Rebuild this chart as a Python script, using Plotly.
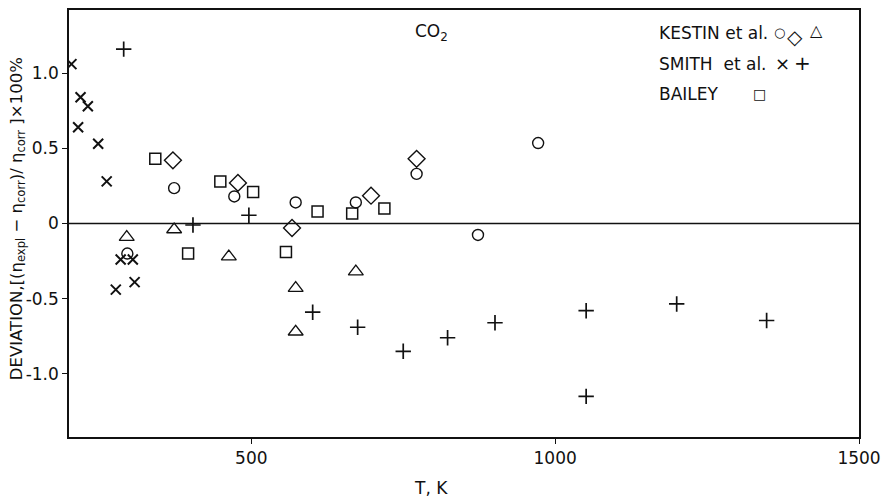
import plotly.graph_objects as go

# ---------------- data ----------------
smith_x_T = [204, 219, 231, 215, 248, 262, 285, 305, 277, 308]
smith_x_dev = [1.06, 0.84, 0.78, 0.64, 0.53, 0.28, -0.24, -0.24, -0.44, -0.39]

smith_p_T = [290, 404, 496, 601, 675, 750, 823, 901, 1051, 1051, 1200, 1348]
smith_p_dev = [1.16, -0.01, 0.055, -0.59, -0.69, -0.85, -0.76, -0.66, -0.58, -1.15, -0.535, -0.645]

kestin_circle_T = [296, 373, 472, 573, 672, 772, 873, 972]
kestin_circle_dev = [-0.20, 0.235, 0.18, 0.14, 0.14, 0.33, -0.076, 0.535]

kestin_diamond_T = [371, 478, 567, 697, 772]
kestin_diamond_dev = [0.42, 0.27, -0.03, 0.185, 0.43]

kestin_tri_T = [295, 373, 463, 573, 573, 672]
kestin_tri_dev = [-0.09, -0.04, -0.22, -0.43, -0.72, -0.32]

bailey_T = [342, 396, 449, 503, 557, 609, 666, 719]
bailey_dev = [0.43, -0.20, 0.28, 0.21, -0.19, 0.08, 0.066, 0.10]

x_tickvals = [500, 1000, 1500]
x_ticktext = ["500", "1000", "1500"]
y_tickvals = [1.0, 0.5, 0, -0.5, -1.0]
y_ticktext = ["1.0", "0.5", "0", "-0.5", "-1.0"]

FONT = "DejaVu Sans"
BLACK = "#111111"

# page offset (body margin of the html page is 8 px)
OFF = 8
PL, PT, PW, PH = 69, 8, 790, 429   # plot area in page pixels

fig = go.Figure()

def add(xs, ys, symbol, size, width):
    fig.add_trace(go.Scatter(
        x=xs, y=ys, mode="markers", showlegend=False, hoverinfo="skip",
        marker=dict(symbol=symbol, size=size, color=BLACK,
                    line=dict(color=BLACK, width=width))))

add(kestin_circle_T, kestin_circle_dev, "circle-open", 11, 1.4)
add(kestin_diamond_T, kestin_diamond_dev, "diamond-open", 13, 1.4)
add(kestin_tri_T, kestin_tri_dev, "triangle-up-open", 13, 1.3)
add(bailey_T, bailey_dev, "square-open", 11, 1.5)
add(smith_x_T, smith_x_dev, "x-thin-open", 10, 2.0)
add(smith_p_T, smith_p_dev, "cross-thin-open", 11, 1.7)

axis_common = dict(
    showline=True, linecolor=BLACK, linewidth=1.6, mirror=True,
    showgrid=False, zeroline=False,
    ticks="outside", ticklen=5, tickwidth=1.2, tickcolor=BLACK,
    tickfont=dict(family=FONT, size=17, color=BLACK),
)

fig.update_xaxes(range=[200, 1500], tickmode="array",
                 tickvals=x_tickvals, ticktext=x_ticktext, **axis_common)
fig.update_yaxes(range=[-1.42, 1.42], tickmode="array",
                 tickvals=y_tickvals, ticktext=y_ticktext, **axis_common)

# zero line
fig.add_hline(y=0, line=dict(color=BLACK, width=1.5))

annotations = []
def px_ann(text, x, y, size=17, xanchor="center"):
    annotations.append(dict(
        text=text, xref="paper", yref="paper",
        x=(x - PL) / PW, y=1 - (y - PT) / PH,
        xanchor=xanchor, yanchor="middle", showarrow=False,
        font=dict(family=FONT, size=size, color=BLACK)))

px_ann("CO<sub>2</sub>", 431, 31, 17)
px_ann("T, K", 431, 488, 17)
# legend block
px_ann("KESTIN et al.", 657, 31, 17, "left")
px_ann("○", 779, 31, 13)
px_ann("◇", 795, 35, 20)
px_ann("△", 816, 29, 16)
px_ann("SMITH  et al.", 657, 62, 17, "left")
px_ann("×", 782, 62, 18)
px_ann("+", 802, 61, 20)
px_ann("BAILEY", 657, 92, 17, "left")
px_ann("□", 759, 92, 14)

# y-axis title (rotated)
annotations.append(dict(
    text="DEVIATION,[(η<sub>expl</sub> − η<sub>corr</sub>)/ η<sub>corr</sub> ]×100%",
    xref="paper", yref="paper", x=0, y=0.51, xshift=-52,
    xanchor="center", yanchor="middle", textangle=-90, showarrow=False,
    font=dict(family=FONT, size=16.5, color=BLACK)))

W, H = 894 - OFF, 503 - OFF
fig.update_layout(
    width=W, height=H,
    margin=dict(l=PL - OFF, r=W - (PL - OFF) - PW, t=PT - OFF,
                b=H - (PT - OFF) - PH),
    paper_bgcolor="white", plot_bgcolor="white",
    font=dict(family=FONT, color=BLACK),
    annotations=annotations,
    showlegend=False,
)

fig.write_html("out.html")
